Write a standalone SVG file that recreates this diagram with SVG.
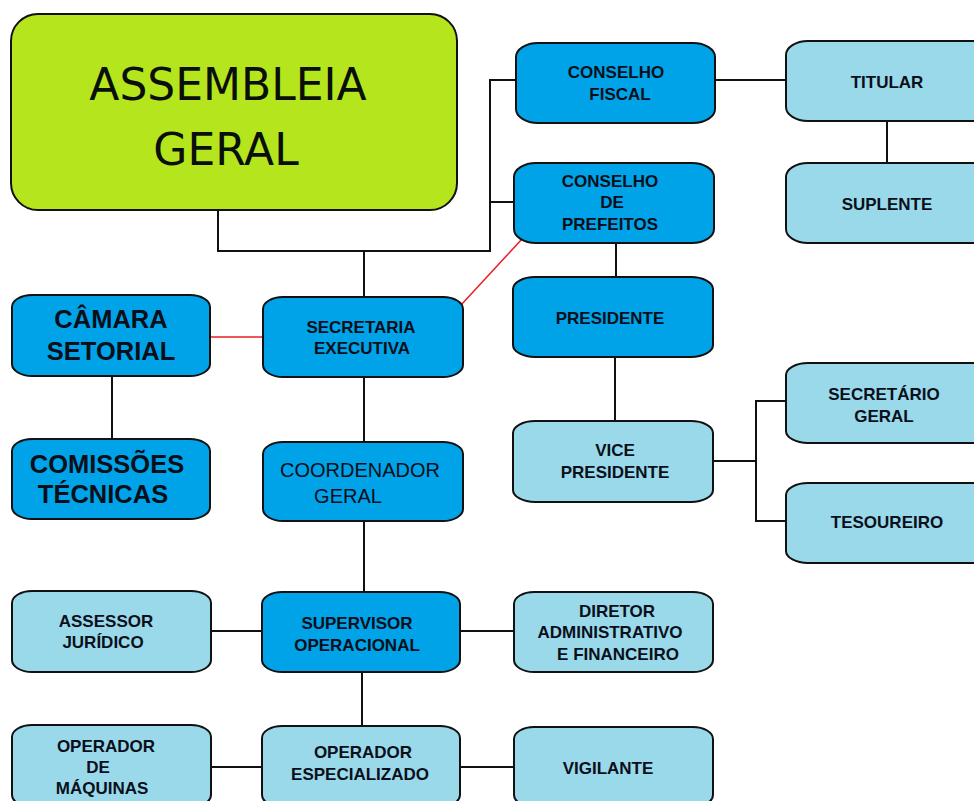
<svg xmlns="http://www.w3.org/2000/svg" width="974" height="801" viewBox="0 0 974 801">
<style>
.box{stroke:#111;stroke-width:2}
.dk{fill:#00a2e8}
.lt{fill:#99d9ea}
.t{font-family:"Liberation Sans",Arial,sans-serif;font-weight:bold;font-size:17px;fill:#0a0f1a;text-anchor:middle}
.big{font-size:25.5px}
.reg{font-weight:normal;font-size:20px}
.ln{stroke:#111;stroke-width:2;fill:none}
.red{stroke:#ed1c24;stroke-width:1.5;fill:none}
</style>
<rect width="974" height="801" fill="#fff"/>
<g id="connectors">
<polyline class="ln" points="218,210 218,251 490,251 490,80 516,80"/>
<line class="ln" x1="490" y1="202" x2="514" y2="202"/>
<line class="ln" x1="364" y1="251" x2="364" y2="297"/>
<line class="ln" x1="715" y1="80" x2="786" y2="80"/>
<line class="ln" x1="887" y1="121" x2="887" y2="163"/>
<line class="ln" x1="616" y1="243" x2="616" y2="277"/>
<line class="ln" x1="615" y1="357" x2="615" y2="421"/>
<polyline class="ln" points="713,461 756,461"/>
<polyline class="ln" points="786,401 756,401 756,521 786,521"/>
<line class="ln" x1="112" y1="376" x2="112" y2="439"/>
<line class="ln" x1="364" y1="377" x2="364" y2="442"/>
<line class="ln" x1="364" y1="521" x2="364" y2="592"/>
<line class="ln" x1="211" y1="631" x2="262" y2="631"/>
<line class="ln" x1="460" y1="631" x2="514" y2="631"/>
<line class="ln" x1="362" y1="672" x2="362" y2="726"/>
<line class="ln" x1="211" y1="767" x2="262" y2="767"/>
<line class="ln" x1="460" y1="767" x2="514" y2="767"/>
<line class="red" x1="211" y1="337" x2="263" y2="337"/>
<line class="red" x1="461" y1="305" x2="522" y2="239"/>
</g>
<g id="assembleia">
<rect x="11" y="14" width="446" height="196" rx="27" ry="27" fill="#b5e61d" class="box"/>
<text x="228" y="100" font-family="'DejaVu Sans',sans-serif" font-size="44" fill="#0a0f0a" text-anchor="middle">ASSEMBLEIA</text>
<text x="226" y="165" font-family="'DejaVu Sans',sans-serif" font-size="44" fill="#0a0f0a" text-anchor="middle">GERAL</text>
</g>
<g id="conselho-fiscal">
<rect x="516" y="43" width="199" height="80" rx="22" ry="14" class="box dk"/>
<text class="t" x="616" y="78">CONSELHO</text>
<text class="t" x="620" y="100">FISCAL</text>
</g>
<g id="conselho-prefeitos">
<rect x="514" y="163" width="200" height="80" rx="22" ry="14" class="box dk"/>
<text class="t" x="610" y="187">CONSELHO</text>
<text class="t" x="612" y="208">DE</text>
<text class="t" x="610" y="230">PREFEITOS</text>
</g>
<g id="titular">
<rect x="786" y="41" width="210" height="80" rx="22" ry="14" class="box lt"/>
<text class="t" x="887" y="88">TITULAR</text>
</g>
<g id="suplente">
<rect x="786" y="163" width="210" height="80" rx="22" ry="14" class="box lt"/>
<text class="t" x="887" y="210">SUPLENTE</text>
</g>
<g id="presidente">
<rect x="513" y="277" width="200" height="80" rx="22" ry="12" class="box dk"/>
<text class="t" x="610" y="324">PRESIDENTE</text>
</g>
<g id="vice-presidente">
<rect x="513" y="421" width="200" height="81" rx="22" ry="12" class="box lt"/>
<text class="t" x="615" y="456">VICE</text>
<text class="t" x="615" y="478">PRESIDENTE</text>
</g>
<g id="secretario-geral">
<rect x="786" y="363" width="210" height="80" rx="22" ry="12" class="box lt"/>
<text class="t" x="884" y="400">SECRETÁRIO</text>
<text class="t" x="884" y="422">GERAL</text>
</g>
<g id="tesoureiro">
<rect x="786" y="483" width="210" height="80" rx="22" ry="12" class="box lt"/>
<text class="t" x="887" y="528">TESOUREIRO</text>
</g>
<g id="camara-setorial">
<rect x="12" y="295" width="198" height="81" rx="20" ry="12" class="box dk"/>
<text class="t big" x="111" y="328">CÂMARA</text>
<text class="t big" x="111" y="360">SETORIAL</text>
</g>
<g id="secretaria-executiva">
<rect x="263" y="297" width="200" height="80" rx="20" ry="12" class="box dk"/>
<text class="t" x="361" y="333">SECRETARIA</text>
<text class="t" x="362" y="354">EXECUTIVA</text>
</g>
<g id="comissoes-tecnicas">
<rect x="12" y="439" width="198" height="80" rx="20" ry="12" class="box dk"/>
<text class="t big" x="107" y="473">COMISSÕES</text>
<text class="t big" x="103" y="503">TÉCNICAS</text>
</g>
<g id="coordenador-geral">
<rect x="263" y="442" width="200" height="79" rx="20" ry="12" class="box dk"/>
<text class="t reg" x="360" y="477">COORDENADOR</text>
<text class="t reg" x="348" y="503">GERAL</text>
</g>
<g id="assessor-juridico">
<rect x="12" y="591" width="199" height="81" rx="20" ry="12" class="box lt"/>
<text class="t" x="106" y="627">ASSESSOR</text>
<text class="t" x="103" y="648">JURÍDICO</text>
</g>
<g id="supervisor-operacional">
<rect x="262" y="592" width="198" height="80" rx="20" ry="12" class="box dk"/>
<text class="t" x="357" y="629">SUPERVISOR</text>
<text class="t" x="357" y="651">OPERACIONAL</text>
</g>
<g id="diretor">
<rect x="514" y="592" width="199" height="80" rx="20" ry="12" class="box lt"/>
<text class="t" x="617" y="617">DIRETOR</text>
<text class="t" x="610" y="638">ADMINISTRATIVO</text>
<text class="t" x="618" y="660">E FINANCEIRO</text>
</g>
<g id="operador-maquinas">
<rect x="12" y="725" width="199" height="82" rx="20" ry="12" class="box lt"/>
<text class="t" x="106" y="752">OPERADOR</text>
<text class="t" x="98" y="773">DE</text>
<text class="t" x="102" y="794">MÁQUINAS</text>
</g>
<g id="operador-especializado">
<rect x="262" y="726" width="198" height="81" rx="20" ry="12" class="box lt"/>
<text class="t" x="363" y="758">OPERADOR</text>
<text class="t" x="360" y="780">ESPECIALIZADO</text>
</g>
<g id="vigilante">
<rect x="514" y="727" width="199" height="80" rx="20" ry="12" class="box lt"/>
<text class="t" x="608" y="774">VIGILANTE</text>
</g>
</svg>
